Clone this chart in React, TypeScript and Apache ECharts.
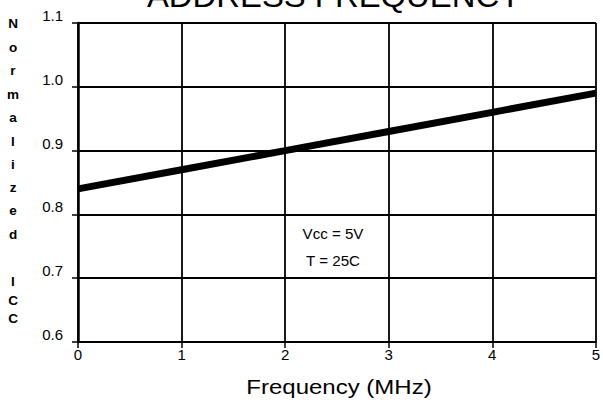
import React, { useEffect, useRef } from "react";
import * as echarts from "echarts";

const freqMHz = [0, 1, 2, 3, 4, 5];
const normIcc = [0.84, 0.87, 0.9, 0.93, 0.96, 0.99];
const yTicks = [0.6, 0.7, 0.8, 0.9, 1.0, 1.1];
const xTicks = [0, 1, 2, 3, 4, 5];
const titleText = "ADDRESS FREQUENCY";
const xName = "Frequency (MHz)";
const yNameLetters = ["N", "o", "r", "m", "a", "l", "i", "z", "e", "d", "", "I", "C", "C"];
const yNameYs = [23, 47, 70, 94, 117, 141, 164, 187, 210, 234, 258, 281, 300, 318];
const noteLines = ["Vcc = 5V", "T = 25C"];

const FONT = "'Liberation Sans', Arial, Helvetica, sans-serif";

export default function App() {
  const ref = useRef<HTMLDivElement>(null);
  useEffect(() => {
    const chart = echarts.init(ref.current!, null, { renderer: "svg" });
    const graphics: any[] = [
      {
        type: "text",
        x: 334,
        y: 12,
        scaleX: 1.06,
        style: {
          text: titleText,
          x: 0,
          y: 0,
          fill: "#000",
          font: `31px ${FONT}`,
          align: "center",
          verticalAlign: "bottom",
        },
      },
      {
        type: "text",
        x: 339,
        y: 387,
        scaleX: 1.2,
        style: {
          text: xName,
          x: 0,
          y: 0,
          fill: "#000",
          font: `20px ${FONT}`,
          align: "center",
          verticalAlign: "middle",
        },
      },
    ];
    yNameLetters.forEach((ch, i) => {
      if (!ch) return;
      graphics.push({
        type: "text",
        style: {
          text: ch,
          x: 13,
          y: yNameYs[i],
          fill: "#000",
          font: `bold 13.5px ${FONT}`,
          align: "center",
          verticalAlign: "middle",
        },
      });
    });
    noteLines.forEach((t, i) => {
      graphics.push({
        type: "text",
        x: 333,
        y: 234 + i * 27,
        scaleX: 1.08,
        style: {
          text: t,
          x: 0,
          y: 0,
          fill: "#000",
          font: `14px ${FONT}`,
          align: "center",
          verticalAlign: "middle",
        },
      });
    });

    chart.setOption({
      animation: false,
      backgroundColor: "#fff",
      grid: { left: 78, right: 3, top: 23, bottom: 67, containLabel: false },
      xAxis: {
        type: "value",
        min: xTicks[0],
        max: xTicks[xTicks.length - 1],
        interval: 1,
        axisLine: { show: true, onZero: false, lineStyle: { color: "#000", width: 2 } },
        axisTick: { show: true, length: 6, lineStyle: { color: "#000", width: 1.5 } },
        axisLabel: {
          color: "#000",
          fontSize: 15,
          fontFamily: FONT,
          margin: 5,
          formatter: (v: number) => String(v),
        },
        splitLine: { show: true, lineStyle: { color: "#000", width: 1.8 } },
      },
      yAxis: {
        type: "value",
        min: yTicks[0],
        max: yTicks[yTicks.length - 1],
        interval: 0.1,
        axisLine: { show: true, onZero: false, lineStyle: { color: "#000", width: 2.5 } },
        axisTick: { show: true, length: 6, lineStyle: { color: "#000", width: 1.5 } },
        axisLabel: {
          color: "#000",
          fontSize: 15,
          fontFamily: FONT,
          margin: 15,
          verticalAlign: "bottom",
          formatter: (v: number) => v.toFixed(1),
        },
        splitLine: { show: true, lineStyle: { color: "#000", width: 1.8 } },
      },
      series: [
        {
          type: "line",
          data: freqMHz.map((x, i) => [x, normIcc[i]]),
          symbol: "none",
          lineStyle: { color: "#000", width: 7 },
        },
      ],
      graphic: graphics,
    });
    return () => chart.dispose();
  }, []);
  return (
    <div
      ref={ref}
      style={{ position: "fixed", left: 0, top: 0, width: 603, height: 409 }}
    />
  );
}
